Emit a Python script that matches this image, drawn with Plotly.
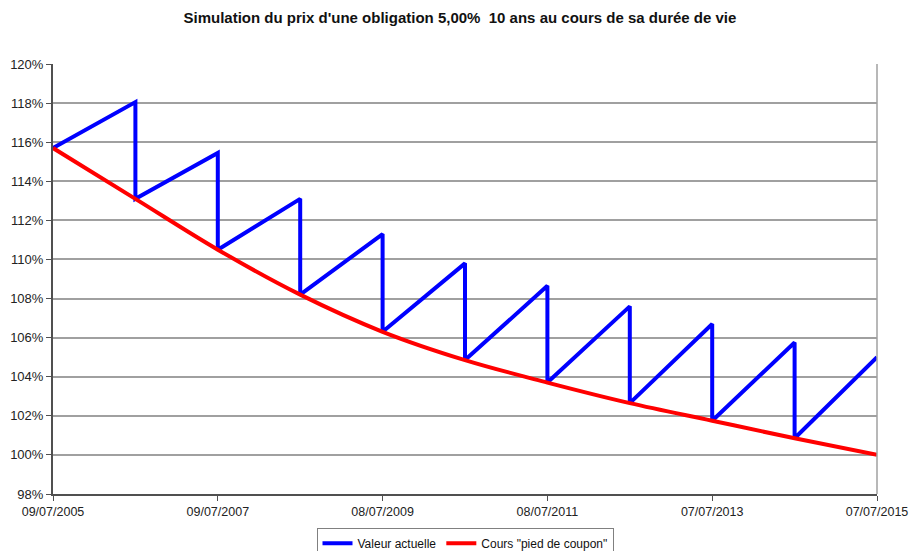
import plotly.graph_objects as go

# Years elapsed since issue (09/07/2005) and the matching date labels
years = [0, 1, 2, 3, 4, 5, 6, 7, 8, 9, 10]
tick_years = [0, 2, 4, 6, 8, 10]
tick_labels = ["09/07/2005", "09/07/2007", "08/07/2009", "08/07/2011", "07/07/2013", "07/07/2015"]

# Clean price ("pied de coupon"), in % of par, at each anniversary
clean_price = [115.7, 113.1, 110.5, 108.2, 106.3, 104.85, 103.7, 102.65, 101.75, 100.85, 100.0]
# Full price just before each coupon is detached (years 1..10)
full_before_coupon = [118.05, 115.45, 113.1, 111.3, 109.8, 108.65, 107.6, 106.7, 105.75, 105.0]

# Full price path: rises from the clean price to the pre-coupon value, then drops on coupon date
full_x, full_y = [years[0]], [clean_price[0]]
for k in range(1, len(years)):
    full_x.append(years[k]); full_y.append(full_before_coupon[k - 1])
    if k < len(years) - 1:
        full_x.append(years[k]); full_y.append(clean_price[k])

fig = go.Figure()
fig.add_trace(go.Scatter(
    x=full_x, y=full_y, mode="lines", name="Valeur actuelle",
    line=dict(color="#0000ff", width=4),
))
fig.add_trace(go.Scatter(
    x=years, y=clean_price, mode="lines", name='Cours "pied de coupon"',
    line=dict(color="#ff0000", width=4, shape="spline", smoothing=1.0),
))

grid = "#a0a0a0"
fig.update_layout(
    width=909, height=551,
    margin=dict(l=53, r=32, t=64, b=57),
    paper_bgcolor="white", plot_bgcolor="white",
    font=dict(family="Liberation Sans, Arial, sans-serif", size=12, color="#222"),
    title=dict(
        text="<b>Simulation du prix d'une obligation 5,00%  10 ans au cours de sa durée de vie</b>",
        x=0.506, xanchor="center", y=0.968, yanchor="middle",
        font=dict(size=15, color="#111"),
    ),
    showlegend=True,
    legend=dict(
        orientation="h", x=0.5, xanchor="center",
        yref="container", y=0.042, yanchor="top",
        bordercolor="#808080", borderwidth=1, bgcolor="white",
        font=dict(size=12, color="#111"), itemwidth=30,
    ),
    xaxis=dict(
        range=[0, 10], tickmode="array", tickvals=tick_years, ticktext=tick_labels,
        showgrid=False, zeroline=False, automargin=False, ticklabeloverflow="allow",
        showline=True, linecolor="#505050", linewidth=2,
        ticks="outside", ticklen=5, tickcolor="#505050",
        tickfont=dict(size=12.5, color="#222"),
    ),
    yaxis=dict(
        range=[98, 120], dtick=2, tickformat="d", ticksuffix="%",
        showgrid=True, gridcolor=grid, gridwidth=1.5, zeroline=False, automargin=False,
        showline=True, linecolor="#505050", linewidth=2,
        ticks="outside", ticklen=5, tickcolor="#505050",
        tickfont=dict(size=13, color="#222"),
    ),
)

# Right-hand frame of the plotting area
fig.add_shape(type="line", xref="paper", yref="paper", x0=1, x1=1, y0=0, y1=1,
              line=dict(color=grid, width=1.5))

fig.write_html("out.html")
